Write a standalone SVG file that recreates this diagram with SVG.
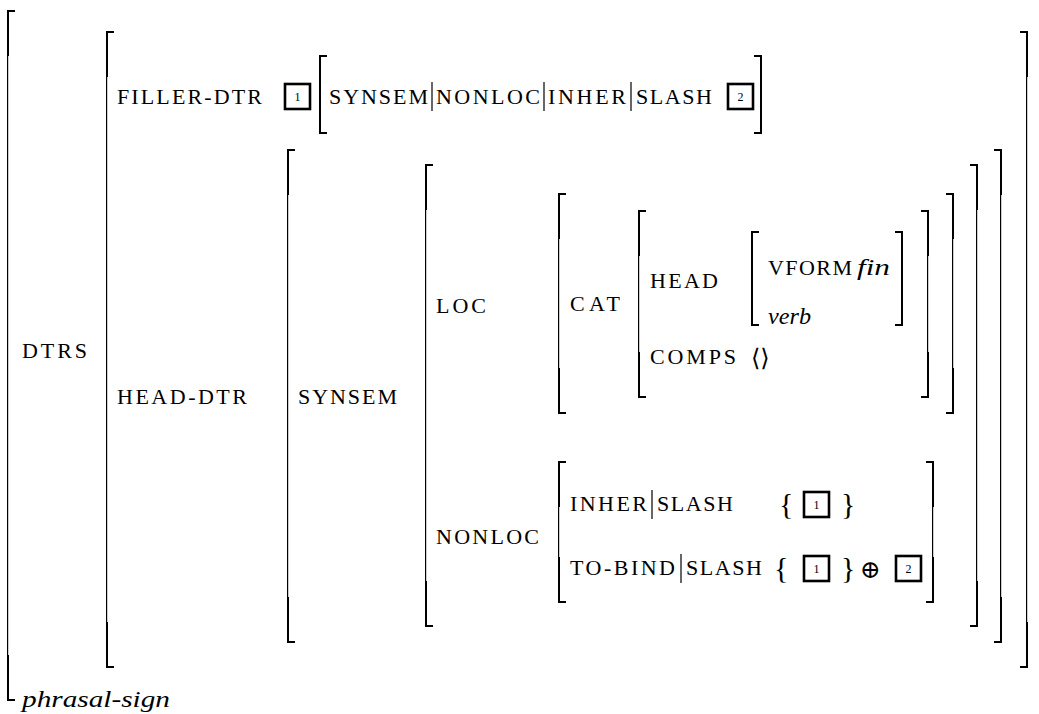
<svg xmlns="http://www.w3.org/2000/svg" width="1039" height="714" viewBox="0 0 1039 714">
<style>
.bk{fill:none;stroke:#000;stroke-width:2;stroke-linejoin:miter;stroke-linecap:butt}
.bt{fill:none;stroke:#000;stroke-width:1.2}
.t{font-family:"Liberation Serif",serif;font-size:22px;fill:#000}
.it{font-family:"Liberation Serif",serif;font-size:24px;font-style:italic;fill:#000}
.box{fill:none;stroke:#000;stroke-width:2.6}
.num{font-family:"Liberation Serif",serif;font-size:12px;fill:#000;text-anchor:middle}
.bar{stroke:#000;stroke-width:1.2}
.br{font-family:"Liberation Serif",serif;font-size:30px;fill:#000}
.sym{font-family:"DejaVu Serif",serif;fill:#000}
</style>
<rect width="1039" height="714" fill="#fff"/>
<g id="brackets">
<path class="bk" d="M15,11H8V56 M8,655V700H15"/><path class="bt" d="M7.6,56V655"/>
<path class="bk" d="M1020,32H1027V77 M1027,622V667H1020"/><path class="bt" d="M1026.6,77V622"/>
<path class="bk" d="M114,32H107V77 M107,622V667H114"/><path class="bt" d="M106.6,77V622"/>
<path class="bk" d="M327,56H320V133H327"/><path class="bk" d="M754,56H761V133H754"/>
<path class="bk" d="M295,150H288V195 M288,597V642H295"/><path class="bt" d="M287.6,195V597"/>
<path class="bk" d="M994,150H1001V195 M1001,597V642H994"/><path class="bt" d="M1000.6,195V597"/>
<path class="bk" d="M433,165H426V210 M426,581V626H433"/><path class="bt" d="M425.6,210V581"/>
<path class="bk" d="M970,165H977V210 M977,581V626H970"/><path class="bt" d="M976.6,210V581"/>
<path class="bk" d="M566,194H559V239 M559,368V413H566"/><path class="bt" d="M558.6,239V368"/>
<path class="bk" d="M946,194H953V239 M953,368V413H946"/><path class="bt" d="M952.6,239V368"/>
<path class="bk" d="M646,211H639V256 M639,352V397H646"/><path class="bt" d="M638.6,256V352"/>
<path class="bk" d="M921,211H928V256 M928,352V397H921"/><path class="bt" d="M927.6,256V352"/>
<path class="bk" d="M759,232H752V325H759"/><path class="bk" d="M895,232H902V325H895"/>
<path class="bk" d="M566,462H559V507 M559,557V602H566"/><path class="bt" d="M558.6,507V557"/>
<path class="bk" d="M926,462H933V507 M933,557V602H926"/><path class="bt" d="M932.6,507V557"/>
</g>
<g id="sort">
<text class="it" x="22" y="707" textLength="148" lengthAdjust="spacingAndGlyphs">phrasal-sign</text>
</g>
<g id="dtrs">
<text class="t" x="22" y="358" textLength="65" lengthAdjust="spacing">DTRS</text>
</g>
<g id="filler-dtr">
<text class="t" x="117" y="104" textLength="145" lengthAdjust="spacing">FILLER-DTR</text>
<rect class="box" x="285" y="84" width="25" height="25"/>
<text class="num" x="297.5" y="101">1</text>
<text class="t" x="329" y="104" textLength="99" lengthAdjust="spacing">SYNSEM</text>
<line class="bar" x1="432" y1="82" x2="432" y2="111"/>
<text class="t" x="436" y="104" textLength="104" lengthAdjust="spacing">NONLOC</text>
<line class="bar" x1="544" y1="82" x2="544" y2="111"/>
<text class="t" x="548" y="104" textLength="78" lengthAdjust="spacing">INHER</text>
<line class="bar" x1="631" y1="82" x2="631" y2="111"/>
<text class="t" x="636" y="104" textLength="76" lengthAdjust="spacing">SLASH</text>
<rect class="box" x="728" y="84" width="25" height="25"/>
<text class="num" x="740.5" y="101">2</text>
</g>
<g id="head-dtr">
<text class="t" x="117" y="404" textLength="130" lengthAdjust="spacing">HEAD-DTR</text>
</g>
<g id="synsem">
<text class="t" x="298" y="404" textLength="99" lengthAdjust="spacing">SYNSEM</text>
</g>
<g id="loc">
<text class="t" x="436" y="313" textLength="50" lengthAdjust="spacing">LOC</text>
</g>
<g id="cat">
<text class="t" x="570" y="311" textLength="50" lengthAdjust="spacing">CAT</text>
</g>
<g id="head">
<text class="t" x="650" y="288" textLength="68" lengthAdjust="spacing">HEAD</text>
<text class="t" x="768" y="275" textLength="84" lengthAdjust="spacing">VFORM</text>
<text class="it" x="857" y="275" textLength="33" lengthAdjust="spacingAndGlyphs">fin</text>
<text class="it" x="768" y="324" textLength="43" lengthAdjust="spacingAndGlyphs">verb</text>
</g>
<g id="comps">
<text class="t" x="650" y="364" textLength="86" lengthAdjust="spacing">COMPS</text>
<text class="sym" x="751" y="366" font-size="24">⟨⟩</text>
</g>
<g id="nonloc">
<text class="t" x="436" y="544" textLength="103" lengthAdjust="spacing">NONLOC</text>
</g>
<g id="inher-slash">
<text class="t" x="570" y="511" textLength="77" lengthAdjust="spacing">INHER</text>
<line class="bar" x1="652" y1="490" x2="652" y2="519"/>
<text class="t" x="657" y="511" textLength="76" lengthAdjust="spacing">SLASH</text>
<text class="br" x="779" y="514">{</text>
<rect class="box" x="804" y="492" width="25" height="25"/>
<text class="num" x="816.5" y="509">1</text>
<text class="br" x="841" y="514">}</text>
</g>
<g id="tobind-slash">
<text class="t" x="570" y="575" textLength="105" lengthAdjust="spacing">TO-BIND</text>
<line class="bar" x1="681" y1="554" x2="681" y2="583"/>
<text class="t" x="686" y="575" textLength="76" lengthAdjust="spacing">SLASH</text>
<text class="br" x="774" y="578">{</text>
<rect class="box" x="804" y="556" width="25" height="25"/>
<text class="num" x="816.5" y="573">1</text>
<text class="br" x="841" y="578">}</text>
<text class="sym" x="860" y="578" font-size="25">⊕</text>
<rect class="box" x="896" y="556" width="25" height="25"/>
<text class="num" x="908.5" y="573">2</text>
</g>
</svg>
